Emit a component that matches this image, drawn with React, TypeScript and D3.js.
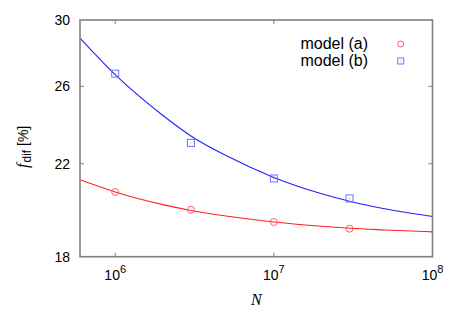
import * as d3 from 'd3'

// measured points
const N_POINTS = [1e6, 3e6, 1e7, 3e7]
const MODEL_A = [20.70, 19.92, 19.40, 19.12]
const MODEL_B = [26.72, 23.01, 21.31, 20.41]

// fitted curves
const CURVE_N = [6e5, 1e6, 2e6, 3e6, 5e6, 1e7, 2e7, 3e7, 5e7, 1e8]
const CURVE_A = [21.25, 20.70, 20.14, 19.89, 19.65, 19.40, 19.22, 19.14, 19.07, 18.99]
const CURVE_B = [28.85, 26.66, 24.41, 23.36, 22.39, 21.36, 20.62, 20.29, 19.96, 19.63]

const X_TICKS = [6, 7, 8]
const Y_TICKS = [18, 22, 26, 30]

const W = 463
const H = 324
const pad = { l: 80, r: 30.5, t: 20, b: 67.3 }
const FONT = '"Liberation Sans", Arial, Helvetica, sans-serif'
const SERIF = '"Liberation Serif", "Times New Roman", serif'
const FRAME = '#808080'

export default function App() {
  const x = d3.scaleLog().domain([6e5, 1e8]).range([pad.l, W - pad.r])
  const y = d3.scaleLog().domain([18, 30]).range([H - pad.b, pad.t])

  const line = d3.line<[number, number]>()
    .x(d => x(d[0]))
    .y(d => y(d[1]))
    .curve(d3.curveMonotoneX)

  const curveA = line(CURVE_N.map((n, i) => [n, CURVE_A[i]]))
  const curveB = line(CURVE_N.map((n, i) => [n, CURVE_B[i]]))

  const x0 = pad.l, x1 = W - pad.r, y0 = H - pad.b, y1 = pad.t
  const legendX = 400.7
  const legendY = [44, 61]

  return (
    <svg width={W} height={H} style={{ position: 'absolute', left: 0, top: 0, background: '#fff' }}>
      <rect x={0} y={0} width={W} height={H} fill="#fff" />

      {/* ticks */}
      {Y_TICKS.slice(1, -1).map(t => (
        <g key={'yt' + t}>
          <line x1={x0} x2={x0 + 4} y1={y(t)} y2={y(t)} stroke={FRAME} strokeWidth={1} />
          <line x1={x1 - 4} x2={x1} y1={y(t)} y2={y(t)} stroke={FRAME} strokeWidth={1} />
        </g>
      ))}
      {X_TICKS.slice(0, -1).map(p => (
        <g key={'xt' + p}>
          <line x1={x(10 ** p)} x2={x(10 ** p)} y1={y0} y2={y0 - 4} stroke={FRAME} strokeWidth={1} />
          <line x1={x(10 ** p)} x2={x(10 ** p)} y1={y1} y2={y1 + 4} stroke={FRAME} strokeWidth={1} />
        </g>
      ))}

      {/* curves */}
      <path d={curveA ?? ''} fill="none" stroke="#ff2020" strokeWidth={1.1} />
      <path d={curveB ?? ''} fill="none" stroke="#2020ff" strokeWidth={1.1} />

      {/* points */}
      {N_POINTS.map((n, i) => (
        <circle key={'a' + i} cx={x(n)} cy={y(MODEL_A[i])} r={3.5} fill="none" stroke="#ff6060" strokeWidth={1} />
      ))}
      {N_POINTS.map((n, i) => (
        <g key={'b' + i}>
          <rect x={x(n) - 3.5} y={y(MODEL_B[i]) - 3.5} width={7} height={7} fill="none" stroke="#7070ff" strokeWidth={1} />
          <rect x={x(n) - 0.5} y={y(MODEL_B[i]) - 0.5} width={1} height={1} fill="#9090ff" />
        </g>
      ))}

      {/* frame */}
      <rect x={x0} y={y1} width={x1 - x0} height={y0 - y1} fill="none" stroke={FRAME} strokeWidth={1.6} />

      {/* y tick labels */}
      {Y_TICKS.map(t => (
        <text key={'yl' + t} x={70} y={y(t) + 5} textAnchor="end" fontSize={14} fontFamily={FONT} fill="#000">{t}</text>
      ))}

      {/* x tick labels */}
      {X_TICKS.map(p => (
        <text key={'xl' + p} x={x(10 ** p)} y={280} textAnchor="middle" fontSize={14} fontFamily={FONT} fill="#000">
          10<tspan dy={-7} fontSize={11}>{p}</tspan>
        </text>
      ))}

      {/* axis labels */}
      <text x={(x0 + x1) / 2} y={305} textAnchor="middle" fontSize={16} fontFamily={SERIF} fontStyle="italic" fill="#000">N</text>
      <text transform="translate(28,168) rotate(-90)" textAnchor="start" fill="#000" fontFamily={FONT} fontSize={14}>
        <tspan fontFamily={SERIF} fontStyle="italic" fontSize={16}>f</tspan>
        <tspan dx={1} dy={3} fontSize={12}>dif</tspan>
        <tspan dy={-3}> [%]</tspan>
      </text>

      {/* legend */}
      <text x={368} y={49} textAnchor="end" fontSize={16} fontFamily={FONT} fill="#000">model (a)</text>
      <text x={368} y={66} textAnchor="end" fontSize={16} fontFamily={FONT} fill="#000">model (b)</text>
      <circle cx={legendX} cy={legendY[0]} r={3} fill="none" stroke="#ff6060" strokeWidth={1} />
      <rect x={legendX - 3} y={legendY[1] - 3} width={6} height={6} fill="none" stroke="#7070ff" strokeWidth={1} />
      <rect x={legendX - 0.5} y={legendY[1] - 0.5} width={1} height={1} fill="#9090ff" />
    </svg>
  )
}
